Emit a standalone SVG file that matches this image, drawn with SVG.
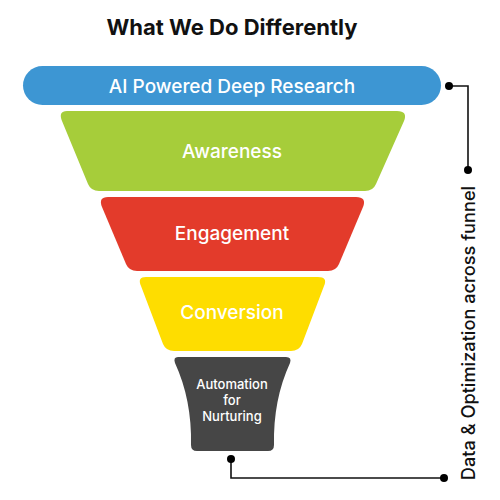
<svg xmlns="http://www.w3.org/2000/svg" width="500" height="500" viewBox="0 0 500 500">
<style>
.lbl{font-family:Inter,"Liberation Sans",sans-serif;fill:#fff;text-anchor:middle;font-weight:500}
.ln{stroke:#111;stroke-width:1.6;fill:none}
.dot{fill:#000}
</style>
<rect width="500" height="500" fill="#fff"/>
<text x="232" y="35" font-family="Inter,'Liberation Sans',sans-serif" font-weight="700" font-size="22" text-anchor="middle" fill="#111">What We Do Differently</text>
<g id="research">
<rect x="23" y="66" width="418" height="39" rx="19.5" fill="#3d96d3"/>
<text class="lbl" x="232" y="92.5" font-size="19">AI Powered Deep Research</text>
</g>
<g id="awareness">
<path d="M67 111 H397 Q408 111 404 121 L376 184 Q373 191 365 191 H99 Q91 191 88 184 L62 121 Q58 111 67 111 Z" fill="#a6cd3a"/>
<text class="lbl" x="232" y="158" font-size="19">Awareness</text>
</g>
<g id="engagement">
<path d="M108 197 H356 Q367 197 363 207 L339 264 Q336 271 328 271 H137 Q129 271 126 264 L102 207 Q98 197 108 197 Z" fill="#e33b2b"/>
<text class="lbl" x="232" y="240" font-size="19">Engagement</text>
</g>
<g id="conversion">
<path d="M146 277 H318 Q328 277 324 286 L302 344 Q299 351 291 351 H174 Q166 351 163 344 L141 286 Q137 277 146 277 Z" fill="#fedd00"/>
<text class="lbl" x="232" y="319" font-size="19">Conversion</text>
</g>
<g id="automation">
<path d="M178 357 H286 Q292 357 290 363 Q273 400 274 445 Q274 451 268 451 H197 Q191 451 191 445 Q192 400 175 363 Q173 357 178 357 Z" fill="#464646"/>
<text class="lbl" x="232" y="389" font-size="13">Automation</text>
<text class="lbl" x="232" y="405" font-size="13">for</text>
<text class="lbl" x="232" y="421" font-size="13">Nurturing</text>
</g>
<g id="connectors">
<polyline class="ln" points="449,86 468,86 468,170"/>
<circle class="dot" cx="449" cy="86" r="4"/>
<circle class="dot" cx="468" cy="170" r="4"/>
<polyline class="ln" points="231,459 231,478 444,478"/>
<circle class="dot" cx="231" cy="459" r="4"/>
<circle class="dot" cx="444" cy="478" r="4"/>
</g>
<text transform="translate(475,333) rotate(-90)" font-family="Inter,'Liberation Sans',sans-serif" font-weight="500" font-size="18.2" text-anchor="middle" fill="#111">Data &amp; Optimization across funnel</text>
</svg>
